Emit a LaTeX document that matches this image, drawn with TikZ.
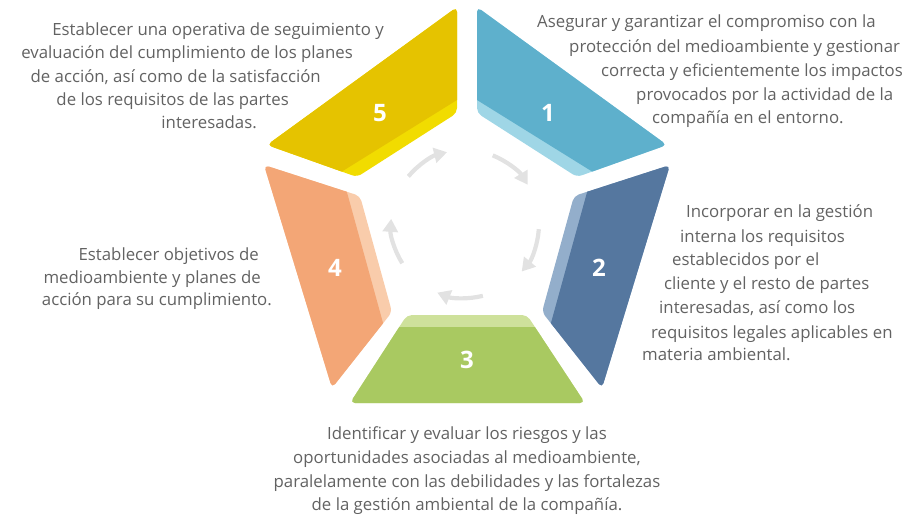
\documentclass[tikz,border=0pt]{standalone}
\usepackage{fontspec}
\setmainfont{Open Sans}
\usetikzlibrary{arrows.meta}
\definecolor{cA}{HTML}{5EB0CC}\definecolor{cAl}{HTML}{9FD6E6}
\definecolor{cB}{HTML}{55779F}\definecolor{cBl}{HTML}{93AECB}
\definecolor{cC}{HTML}{A9C961}\definecolor{cCl}{HTML}{CEE19B}
\definecolor{cD}{HTML}{F3A676}\definecolor{cDl}{HTML}{F9CCAB}
\definecolor{cE}{HTML}{E5C300}\definecolor{cEl}{HTML}{F1DC00}
\definecolor{txt}{HTML}{626262}
\definecolor{arr}{HTML}{E2E2E2}
\begin{document}
\begin{tikzpicture}[x=1pt,y=-1pt,
  desc/.style={font=\fontsize{16.8}{20}\selectfont, text=txt, inner sep=0pt},
  num/.style={font=\fontsize{24}{28}\selectfont\bfseries, text=white, inner sep=0pt},
  cyc/.style={draw=arr, line width=4.2pt, -{Triangle[length=13pt,width=15pt]}},
  seg/.style={rounded corners=5pt}]
\useasboundingbox (0,0) rectangle (924,515);

% segment 1
\begin{scope}
\clip[seg] (477,7) -- (667,145) -- (577,177) -- (477,113) -- cycle;
\fill[cAl] (400,0) rectangle (700,200);
\fill[cA] (374,36) -- (786,292) -- (786,-50) -- (374,-50) -- cycle;
\end{scope}
% segment 5
\begin{scope}
\clip[seg] (457,7) -- (267,145) -- (357,177) -- (457,113) -- cycle;
\fill[cEl] (234,0) rectangle (534,200);
\fill[cE] (560,36) -- (148,292) -- (148,-50) -- (560,-50) -- cycle;
\end{scope}
% segment 2
\begin{scope}
\clip[seg] (670,165) -- (602,388) -- (542,312) -- (574,196) -- cycle;
\fill[cBl] (500,150) rectangle (700,400);
\fill[cB] (650,-36) -- (490,544) -- (800,544) -- (800,-36) -- cycle;
\end{scope}
% segment 4
\begin{scope}
\clip[seg] (264,165) -- (332,388) -- (392,312) -- (360,196) -- cycle;
\fill[cDl] (234,150) rectangle (434,400);
\fill[cD] (284,-36) -- (444,544) -- (134,544) -- (134,-36) -- cycle;
\end{scope}
% segment 3
\begin{scope}
\clip[seg] (407,315) -- (527,315) -- (585,403) -- (350,403) -- cycle;
\fill[cCl] (300,300) rectangle (650,420);
\fill[cC] (300,327) rectangle (650,420);
\end{scope}

% numbers
\node[num] (n1) at (548,113) {1};
\node[num] (n2) at (599,268) {2};
\node[num] (n3) at (467,360) {3};
\node[num] (n4) at (335,268) {4};
\node[num] (n5) at (380,113) {5};

% cycle arrows
\coordinate (c) at (465,224);
\draw[cyc] (c) ++(-68:74) arc[start angle=-68, end angle=-32, radius=74];
\draw[cyc] (c) ++(4:74) arc[start angle=4, end angle=40, radius=74];
\draw[cyc] (c) ++(76:74) arc[start angle=76, end angle=112, radius=74];
\draw[cyc] (c) ++(148:74) arc[start angle=148, end angle=184, radius=74];
\draw[cyc] (c) ++(-140:74) arc[start angle=-140, end angle=-104, radius=74];

% text 1
\node[desc, anchor=mid west] (t1a) at (537,25) {Asegurar y garantizar el compromiso con la};
\node[desc, anchor=mid west] (t1b) at (569,50) {protección del medioambiente y gestionar};
\node[desc, anchor=mid west] (t1c) at (601,74) {correcta y eficientemente los impactos};
\node[desc, anchor=mid west] (t1d) at (636,98) {provocados por la actividad de la};
\node[desc, anchor=mid west] (t1e) at (652,121) {compañía en el entorno.};
% text 2
\node[desc, anchor=mid west] (t2a) at (686,215) {Incorporar en la gestión};
\node[desc, anchor=mid west] (t2b) at (680,240) {interna los requisitos};
\node[desc, anchor=mid west] (t2c) at (672,263) {establecidos por el};
\node[desc, anchor=mid west] (t2d) at (664,287) {cliente y el resto de partes};
\node[desc, anchor=mid west] (t2e) at (659,311) {interesadas, así como los};
\node[desc, anchor=mid west] (t2f) at (651,336) {requisitos legales aplicables en};
\node[desc, anchor=mid west] (t2g) at (642,358) {materia ambiental.};
% text 3
\node[desc, anchor=mid] (t3a) at (467,437) {Identificar y evaluar los riesgos y las};
\node[desc, anchor=mid] (t3b) at (467,461) {oportunidades asociadas al medioambiente,};
\node[desc, anchor=mid] (t3c) at (467,485) {paralelamente con las debilidades y las fortalezas};
\node[desc, anchor=mid] (t3d) at (467,508) {de la gestión ambiental de la compañía.};
% text 4
\node[desc, anchor=mid east] (t4a) at (259,258) {Establecer objetivos de};
\node[desc, anchor=mid east] (t4b) at (261,281) {medioambiente y planes de};
\node[desc, anchor=mid east] (t4c) at (272,303) {acción para su cumplimiento.};
% text 5
\node[desc, anchor=mid east] (t5a) at (384,33) {Establecer una operativa de seguimiento y};
\node[desc, anchor=mid east] (t5b) at (353,56) {evaluación del cumplimiento de los planes};
\node[desc, anchor=mid east] (t5c) at (321,80) {de acción, así como de la satisfacción};
\node[desc, anchor=mid east] (t5d) at (289,103) {de los requisitos de las partes};
\node[desc, anchor=mid east] (t5e) at (257,126) {interesadas.};
\end{tikzpicture}
\end{document}
